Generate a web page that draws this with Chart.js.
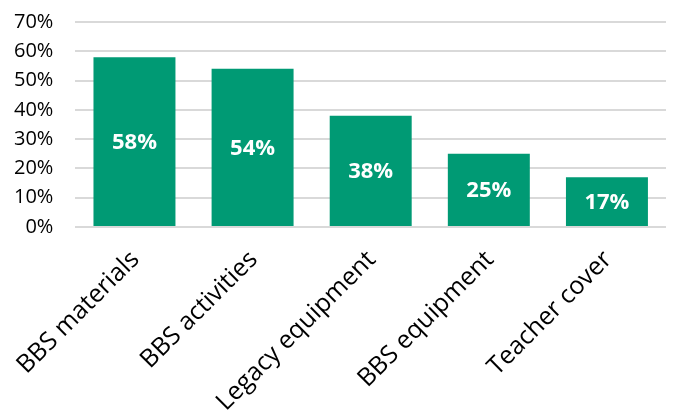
<!DOCTYPE html>
<html>
<head>
<meta charset="utf-8">
<script src="https://cdn.jsdelivr.net/npm/chart.js@4.4.1/dist/chart.umd.min.js"></script>
<style>
    html, body { margin: 0; padding: 0; background: #fff; }
    #wrap { width: 673px; height: 414px; }
</style>
</head>
<body>
<div id="wrap"><canvas id="chart"></canvas></div>
<script>
const categories = ['BBS materials', 'BBS activities', 'Legacy equipment', 'BBS equipment', 'Teacher cover'];
const shares = [58, 54, 38, 25, 17];
const yTicks = [0, 10, 20, 30, 40, 50, 60, 70];

const FONT = '"Open Sans", sans-serif';
const GREEN = '#009A74';

// writes the value in the middle of each bar
const barValues = {
    id: 'barValues',
    afterDatasetsDraw(chart) {
        const ctx = chart.ctx;
        const meta = chart.getDatasetMeta(0);
        ctx.save();
        ctx.fillStyle = '#fff';
        ctx.font = 'bold 22px ' + FONT;
        ctx.textAlign = 'center';
        ctx.textBaseline = 'middle';
        meta.data.forEach((bar, i) => {
            const mid = (bar.y + bar.base) / 2;
            ctx.fillText(shares[i] + '%', bar.x, mid + 1);
        });
        ctx.restore();
    }
};

new Chart(document.getElementById('chart'), {
    type: 'bar',
    data: {
        labels: categories,
        datasets: [{
            data: shares,
            backgroundColor: GREEN,
            borderWidth: 0,
            barPercentage: 0.694,
            categoryPercentage: 1
        }]
    },
    options: {
        responsive: true,
        maintainAspectRatio: false,
        animation: false,
        layout: { padding: { top: 22, right: 7, left: 14, bottom: 0 } },
        plugins: { legend: { display: false }, tooltip: { enabled: false } },
        scales: {
            x: {
                // rotated labels reserve more room than they use; pin the band
                afterFit(axis) {
                    axis.height = 187;
                    axis.paddingLeft = 0;
                    axis.paddingRight = 0;
                },
                grid: { display: false, drawTicks: false },
                border: { display: false },
                ticks: {
                    color: '#000',
                    font: { family: FONT, size: 25 },
                    minRotation: 45,
                    maxRotation: 45,
                    autoSkip: false,
                    padding: 18,
                    labelOffset: 1
                }
            },
            y: {
                min: 0,
                max: 70,
                afterBuildTicks(axis) {
                    axis.ticks = yTicks.map(v => ({ value: v }));
                },
                // tick padding is counted twice in the width; drop the extra
                afterFit(axis) {
                    axis.width -= axis.options.ticks.padding;
                    axis.paddingTop = 0;
                    axis.paddingBottom = 0;
                },
                grid: { color: '#D9D9D9', lineWidth: 2, drawTicks: false },
                border: { display: false },
                ticks: {
                    color: '#000',
                    font: { family: FONT, size: 20 },
                    padding: 22,
                    autoSkip: false,
                    callback: v => v + '%'
                }
            }
        }
    },
    plugins: [barValues]
});
</script>
</body>
</html>
